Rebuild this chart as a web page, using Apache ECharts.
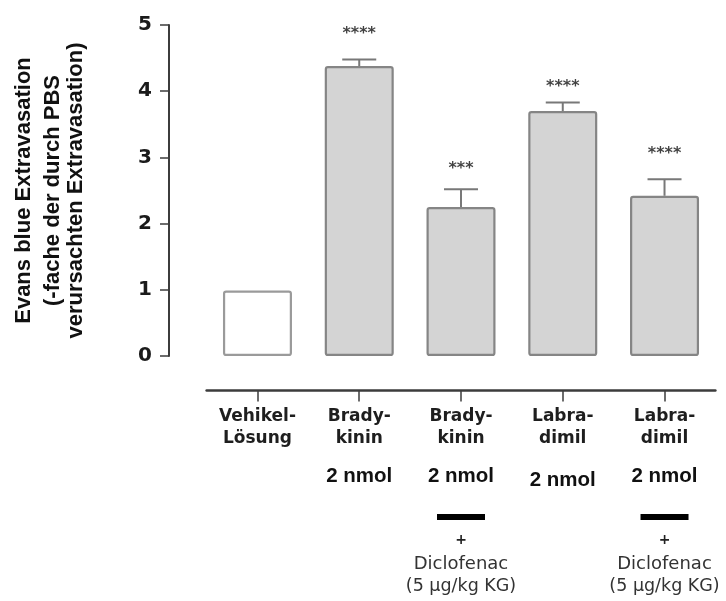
<!DOCTYPE html>
<html>
<head>
<meta charset="utf-8">
<script src="https://cdn.jsdelivr.net/npm/echarts@6/dist/echarts.min.js"></script>
<style>
html,body{margin:0;padding:0;background:#fff;}
#chart{width:726px;height:601px;}
</style>
</head>
<body>
<div id="chart"></div>
<script>
// ---- data ----
const categories = ['Vehikel-\nLösung', 'Brady-\nkinin', 'Brady-\nkinin', 'Labra-\ndimil', 'Labra-\ndimil'];
const doses = ['', '2 nmol', '2 nmol', '2 nmol', '2 nmol'];
const withDiclofenac = [false, false, true, false, true];
const comboText = ['+', 'Diclofenac', '(5 µg/kg KG)'];
const means = [0.99, 4.38, 2.25, 3.70, 2.42];
const sem = [0, 0.10, 0.27, 0.13, 0.25];
const sigLabels = ['', '****', '***', '****', '****'];
const sigY = [null, 4.90, 2.85, 4.09, 3.09];
const yTicks = [0, 1, 2, 3, 4, 5];
const yTitle = ['Evans blue Extravasation', '(-fache der durch PBS', 'verursachten Extravasation)'];

// ---- build ----
const chart = echarts.init(document.getElementById('chart'), null, {renderer: 'canvas'});
const axisColor = '#3c3c3c';
const gridL = 206.6, gridR = 10.6;

const barData = means.map((v, i) => ({
  value: v,
  itemStyle: i === 0 ? {color: '#ffffff', borderColor: '#9a9a9a'} : {}
}));
const errData = means.map((v, i) => [i, v, sem[i]]);
const starData = sigY.map((v, i) => v == null ? null : {value: [i, v], label: {formatter: sigLabels[i]}}).filter(d => d);

function lowerLabel(value, idx) {
  const parts = categories[idx].split('\n').map(s => '{cat|' + s + '}');
  if (doses[idx]) {
    const style = (idx === 3) ? 'doseLow' : (withDiclofenac[idx] ? 'doseC' : 'dose');
    parts.push('{' + style + '|' + doses[idx] + '}');
  }
  if (withDiclofenac[idx]) {
    parts.push('{bar| }');
    parts.push('{plus|' + comboText[0] + '}');
    parts.push('{dic|' + comboText[1] + '}');
    parts.push('{kg|' + comboText[2] + '}');
  }
  return parts.join('\n');
}

const option = {
  backgroundColor: '#ffffff',
  animation: false,
  grid: [
    {left: gridL, right: gridR, top: 25, bottom: 245},
    {left: gridL, right: gridR, top: 389.5, height: 1}
  ],
  xAxis: [
    {type: 'category', gridIndex: 0, data: categories, show: false},
    {
      type: 'category', gridIndex: 1, data: categories, position: 'bottom',
      axisLine: {show: true, lineStyle: {color: axisColor, width: 2.5}},
      axisTick: {show: true, alignWithLabel: true, length: 11, lineStyle: {color: axisColor, width: 1.5}},
      axisLabel: {
        interval: 0, margin: 15, formatter: lowerLabel,
        rich: {
          cat: {fontFamily: 'DejaVu Sans', fontWeight: 'bold', fontSize: 17, color: '#1e1e1e', height: 22},
          dose: {fontFamily: 'Liberation Sans', fontWeight: 'bold', fontSize: 20.5, color: '#111', height: 24, padding: [14.5, 0, 0, 0]},
          doseLow: {fontFamily: 'Liberation Sans', fontWeight: 'bold', fontSize: 20.5, color: '#111', height: 24, padding: [18.5, 0, 0, 0]},
          doseC: {fontFamily: 'Liberation Sans', fontWeight: 'bold', fontSize: 20.5, color: '#111', height: 24, padding: [14.5, 0, 26, 0]},
          bar: {backgroundColor: '#000', width: 48, height: 6, fontSize: 6},
          plus: {fontFamily: 'DejaVu Sans', fontWeight: 'bold', fontSize: 14, color: '#222', height: 14, padding: [13.5, 0, 0, 0]},
          dic: {fontFamily: 'DejaVu Sans', fontSize: 18, color: '#333', height: 18, padding: [8, 0, 0, 0]},
          kg: {fontFamily: 'DejaVu Sans', fontSize: 17.5, color: '#333', height: 18, padding: [3.5, 0, 0, 0]}
        }
      }
    }
  ],
  yAxis: [
    {
      type: 'value', gridIndex: 0, min: yTicks[0], max: yTicks[yTicks.length - 1], interval: 1,
      offset: 37.6,
      axisLine: {show: true, lineStyle: {color: axisColor, width: 2}},
      axisTick: {show: true, length: 9, lineStyle: {color: axisColor, width: 1.5}},
      splitLine: {show: false},
      axisLabel: {margin: 17, fontFamily: 'DejaVu Sans', fontWeight: 'bold', fontSize: 20, color: '#1a1a1a'},
      name: '{a|' + yTitle[0] + '}\n{b|' + yTitle[1] + '}\n{b|' + yTitle[2] + '}',
      nameLocation: 'middle', nameRotate: 90, nameGap: 81,
      nameTextStyle: {
        align: 'center',
        rich: {
          a: {fontFamily: 'Liberation Sans', fontWeight: 'bold', fontSize: 22, color: '#111', lineHeight: 35},
          b: {fontFamily: 'Liberation Sans', fontWeight: 'bold', fontSize: 22, color: '#111', lineHeight: 23.5}
        }
      }
    },
    {type: 'value', gridIndex: 1, show: false}
  ],
  series: [
    {
      type: 'bar', xAxisIndex: 0, yAxisIndex: 0, data: barData, barWidth: 69,
      itemStyle: {color: '#d4d4d4', borderColor: '#858585', borderWidth: 2.2, borderRadius: 2},
      z: 2
    },
    {
      type: 'custom', xAxisIndex: 0, yAxisIndex: 0, data: errData, z: 3,
      renderItem: function (params, api) {
        const x = api.value(0), m = api.value(1), e = api.value(2);
        if (!e) return null;
        const b = api.coord([x, m]);
        const t = api.coord([x, m + e]);
        const half = 17;
        const st = {stroke: '#787878', lineWidth: 2};
        return {type: 'group', children: [
          {type: 'line', shape: {x1: b[0], y1: b[1], x2: t[0], y2: t[1]}, style: st},
          {type: 'line', shape: {x1: t[0] - half, y1: t[1], x2: t[0] + half, y2: t[1]}, style: st}
        ]};
      }
    },
    {
      type: 'scatter', xAxisIndex: 0, yAxisIndex: 0, data: starData, symbolSize: 0, z: 4,
      label: {show: true, position: 'inside', offset: [0, 2], fontFamily: 'DejaVu Sans', fontWeight: 'bold', fontSize: 16, color: '#111'}
    }
  ]
};
chart.setOption(option);
</script>
</body>
</html>
